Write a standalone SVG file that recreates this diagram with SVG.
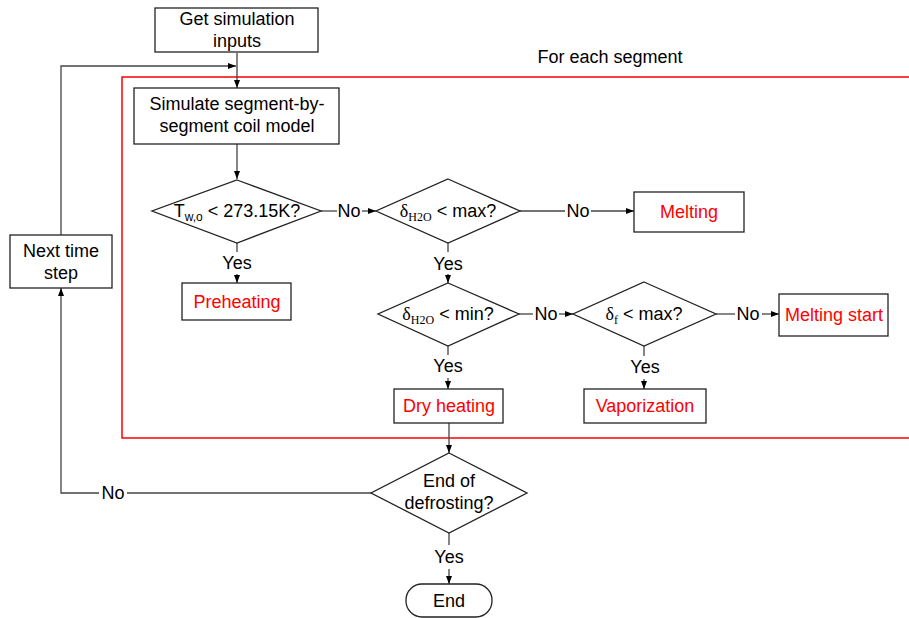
<svg xmlns="http://www.w3.org/2000/svg" width="909" height="618" viewBox="0 0 909 618">
<defs>
<marker id="arr" markerWidth="8" markerHeight="6" refX="8" refY="3" orient="auto" markerUnits="userSpaceOnUse">
<path d="M0,0 L8,3 L0,6 Z" fill="#000"/>
</marker>
<style>
text{font-family:"Liberation Sans",Arial,sans-serif;font-size:18px;fill:#000;text-anchor:middle}
.red{fill:#ff0000}
.box{fill:#fff;stroke:#222;stroke-width:1.3}
.c{fill:none;stroke:#444;stroke-width:1.3}
.ca{fill:none;stroke:#444;stroke-width:1.3;marker-end:url(#arr)}
.d{font-family:"Liberation Serif","Times New Roman",serif}
.sub{font-family:"Liberation Serif","Times New Roman",serif;font-size:12px}
.subs{font-size:12px}
</style>
</defs>
<rect x="122" y="77" width="800" height="361" fill="none" stroke="#ff0000" stroke-width="1.5"/>
<text x="610" y="63">For each segment</text>
<g id="connectors">
<path class="ca" d="M237,53 V88"/>
<path class="ca" d="M61,235 V66 H236"/>
<path class="ca" d="M237,144 V179"/>
<path class="c" d="M321,211 H337"/>
<path class="ca" d="M362,211 H376"/>
<path class="c" d="M520,211 H565"/>
<path class="ca" d="M591,211 H634"/>
<path class="c" d="M237,243 V252"/>
<path class="ca" d="M237,274 V283"/>
<path class="c" d="M448,243 V252"/>
<path class="ca" d="M448,274 V283"/>
<path class="c" d="M519,314 H533"/>
<path class="ca" d="M559,314 H573"/>
<path class="c" d="M716,314 H735"/>
<path class="ca" d="M762,314 H779"/>
<path class="c" d="M448,346 V355"/>
<path class="ca" d="M448,378 V389"/>
<path class="c" d="M644,346 V356"/>
<path class="ca" d="M644,379 V389"/>
<path class="ca" d="M449,423 V453"/>
<path class="c" d="M371,493 H127"/>
<path class="ca" d="M99,493 H61 V288"/>
<path class="c" d="M449,533 V545"/>
<path class="ca" d="M449,569 V584"/>
<text x="349" y="217">No</text>
<text x="578" y="217">No</text>
<text x="546" y="320">No</text>
<text x="748" y="320">No</text>
<text x="113" y="499">No</text>
<text x="237" y="269">Yes</text>
<text x="448" y="270">Yes</text>
<text x="448" y="372">Yes</text>
<text x="645" y="373">Yes</text>
<text x="449" y="563">Yes</text>
</g>
<g id="get-inputs">
<rect class="box" x="155" y="8" width="163" height="44"/>
<text x="237" y="25">Get simulation</text>
<text x="237" y="47">inputs</text>
</g>
<g id="simulate">
<rect class="box" x="134" y="88" width="205" height="56"/>
<text x="237" y="110">Simulate segment-by-</text>
<text x="237" y="132">segment coil model</text>
</g>
<g id="d-temp">
<polygon class="box" points="237,180 321,211 237,243 152,211"/>
<text x="237" y="217">T<tspan class="subs" dy="4">w,o</tspan><tspan dy="-4"> &lt; 273.15K?</tspan></text>
</g>
<g id="d-max">
<polygon class="box" points="448,179 520,211 448,243 376,211"/>
<text x="448" y="217"><tspan class="d">δ</tspan><tspan class="sub" dy="4">H2O</tspan><tspan dy="-4"> &lt; max?</tspan></text>
</g>
<g id="melting">
<rect class="box" x="634" y="192" width="110" height="40"/>
<text class="red" x="689" y="218">Melting</text>
</g>
<g id="preheating">
<rect class="box" x="182" y="283" width="109" height="37"/>
<text class="red" x="237" y="308">Preheating</text>
</g>
<g id="d-min">
<polygon class="box" points="448,283 519,314 448,346 378,314"/>
<text x="448" y="320"><tspan class="d">δ</tspan><tspan class="sub" dy="4">H2O</tspan><tspan dy="-4"> &lt; min?</tspan></text>
</g>
<g id="d-f">
<polygon class="box" points="644,282 716,314 644,346 573,314"/>
<text x="644" y="320"><tspan class="d">δ</tspan><tspan class="sub" dy="4">f</tspan><tspan dy="-4"> &lt; max?</tspan></text>
</g>
<g id="melting-start">
<rect class="box" x="779" y="294" width="109" height="42"/>
<text class="red" x="834" y="321">Melting start</text>
</g>
<g id="dry-heating">
<rect class="box" x="394" y="389" width="109" height="34"/>
<text class="red" x="449" y="412">Dry heating</text>
</g>
<g id="vaporization">
<rect class="box" x="584" y="389" width="122" height="34"/>
<text class="red" x="645" y="412">Vaporization</text>
</g>
<g id="d-end">
<polygon class="box" points="449,453 527,493 449,533 371,493"/>
<text x="449" y="487">End of</text>
<text x="449" y="509">defrosting?</text>
</g>
<g id="next-step">
<rect class="box" x="10" y="235" width="102" height="53"/>
<text x="61" y="257">Next time</text>
<text x="61" y="279">step</text>
</g>
<g id="end">
<rect class="box" x="406" y="584" width="86" height="33" rx="16" ry="16"/>
<text x="449" y="607">End</text>
</g>
</svg>
